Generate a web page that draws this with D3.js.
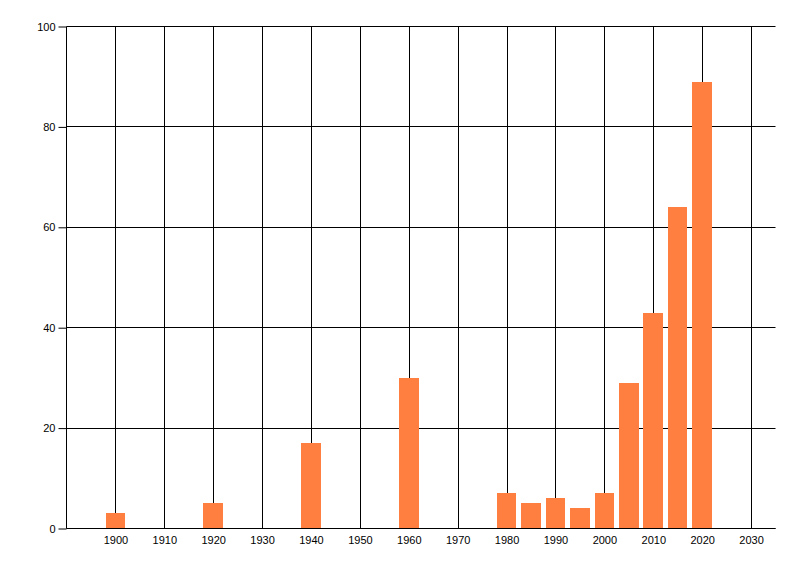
<!DOCTYPE html>
<html><head><meta charset="utf-8">
<script src="https://cdn.jsdelivr.net/npm/d3@7"></script>
<style>body{margin:0;background:#fff}svg{display:block}text{font-family:"Liberation Sans",Arial,sans-serif;font-size:11px;fill:#000}</style>
</head><body><svg id="c" width="800" height="576"></svg>
<script>
const years = [1900, 1920, 1940, 1960, 1980, 1985, 1990, 1995, 2000, 2005, 2010, 2015, 2020];
const values = [3, 5, 17, 30, 7, 5, 6, 4, 7, 29, 43, 64, 89];
const xTicks = [1900, 1910, 1920, 1930, 1940, 1950, 1960, 1970, 1980, 1990, 2000, 2010, 2020, 2030];
const yTicks = [0, 20, 40, 60, 80, 100];

const svg = d3.select("#c");
const L = 66.5, R = 775.5, T = 26.5, B = 528.5;
const x = d3.scaleLinear().domain([1890, 2035]).range([L, R]);
const y = d3.scaleLinear().domain([0, 100]).range([B, T]);

const g = svg.append("g");
// vertical gridlines
g.selectAll(".vg").data(xTicks).enter().append("line")
  .attr("x1", d => Math.round(x(d)) + 0.5).attr("x2", d => Math.round(x(d)) + 0.5)
  .attr("y1", T).attr("y2", B).attr("stroke", "#000");
// horizontal gridlines
g.selectAll(".hg").data(yTicks).enter().append("line")
  .attr("x1", L).attr("x2", R)
  .attr("y1", d => Math.round(y(d) - 0.5) + 0.5).attr("y2", d => Math.round(y(d) - 0.5) + 0.5).attr("stroke", "#000");
// y axis line
g.append("line").attr("x1", L).attr("x2", L).attr("y1", T).attr("y2", B).attr("stroke", "#000");

// bars
const bw = 4;
svg.selectAll(".bar").data(years).enter().append("rect")
  .attr("x", d => Math.round(x(d - bw / 2)))
  .attr("width", d => Math.round(x(d + bw / 2)) - Math.round(x(d - bw / 2)))
  .attr("y", (d, i) => Math.round(y(values[i])))
  .attr("height", (d, i) => Math.round(y(0)) - Math.round(y(values[i])))
  .attr("fill", "#FF7F40");

// x axis on top of bars
svg.append("line").attr("x1", L).attr("x2", R).attr("y1", B).attr("y2", B).attr("stroke", "#000");

// y axis ticks & labels
const ya = svg.append("g").attr("transform", `translate(${L},0)`)
  .call(d3.axisLeft(y).tickValues(yTicks).tickSize(8).tickPadding(3).tickFormat(d3.format("d")));
ya.select(".domain").remove();
ya.selectAll("line").attr("stroke", "#000");
ya.selectAll("text").style("font-family", '"Liberation Sans",Arial,sans-serif').style("font-size", "11px").attr("fill", "#000");

// x labels
const xa = svg.append("g").attr("transform", `translate(0,${B})`)
  .call(d3.axisBottom(x).tickValues(xTicks).tickSize(0).tickPadding(8).tickFormat(d3.format("d")));
xa.select(".domain").remove();
xa.selectAll("text").style("font-family", '"Liberation Sans",Arial,sans-serif').style("font-size", "11px").attr("fill", "#000");
</script></body></html>
